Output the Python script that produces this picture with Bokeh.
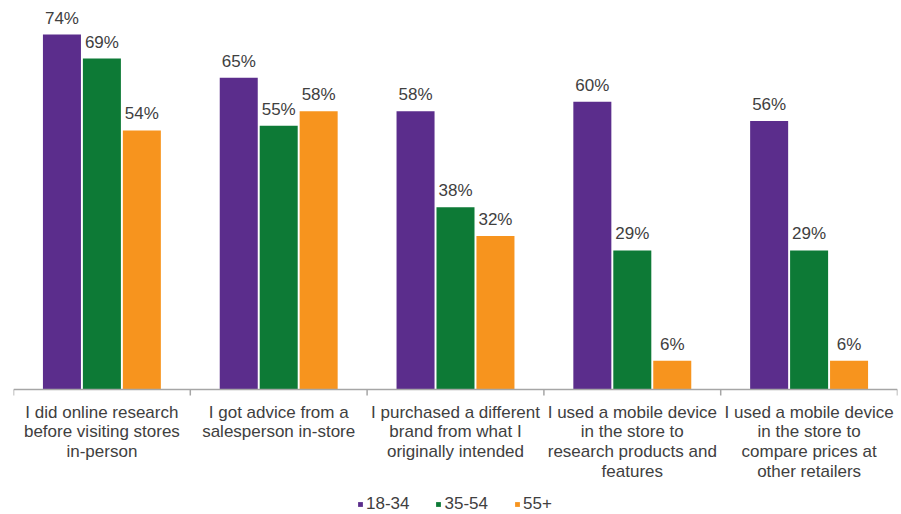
from bokeh.plotting import figure
from bokeh.models import ColumnDataSource, Range1d, Legend, LegendItem, Span
from bokeh.core.properties import value
from bokeh.transform import dodge
from bokeh.embed import file_html
from bokeh.resources import INLINE

categories = [
    "I did online research\nbefore visiting stores\nin-person",
    "I got advice from a\nsalesperson in-store",
    "I purchased a different\nbrand from what I\noriginally intended",
    "I used a mobile device\nin the store to\nresearch products and\nfeatures",
    "I used a mobile device\nin the store to\ncompare prices at\nother retailers",
]
series_names = ["18-34", "35-54", "55+"]
v_18_34 = [74, 65, 58, 60, 56]
v_35_54 = [69, 55, 38, 29, 29]
v_55p = [54, 58, 32, 6, 6]
colors = ["#5b2d8c", "#0d7a36", "#f7941e"]

FONT = "Liberation Sans"
TXT = "#404040"
AXIS = "#a6a6a6"

# layout (pixels)
PLOT_H = 389      # bar area height
BELOW_H = 125     # room for category labels and legend
Y_TOP = 81.1      # value at top of bar area
px_per_unit = PLOT_H / Y_TOP
y_bottom = -BELOW_H / px_per_unit

n = len(categories)
xs = list(range(n))
src = ColumnDataSource(dict(
    x=xs, cat=categories,
    a=v_18_34, b=v_35_54, c=v_55p,
    la=[f"{v}%" for v in v_18_34],
    lb=[f"{v}%" for v in v_35_54],
    lc=[f"{v}%" for v in v_55p],
))

p = figure(frame_width=884, frame_height=PLOT_H + BELOW_H, output_backend="svg", toolbar_location=None,
           x_range=Range1d(-0.5, n - 0.5), y_range=Range1d(y_bottom, Y_TOP),
           min_border_left=13, min_border_right=4, min_border_top=0, min_border_bottom=0,
           x_axis_location=None, y_axis_location=None)
p.outline_line_color = None
p.xgrid.visible = False
p.ygrid.visible = False

bw = 0.215
off = 0.226
renderers = []
for col, lab, dx, color in zip(["a", "b", "c"], ["la", "lb", "lc"], [-off, 0, off], colors):
    r = p.vbar(x=dodge("x", dx, range=p.x_range), top=col, bottom=0, width=bw, source=src,
               fill_color=color, line_color=None)
    renderers.append(r)
    p.text(x=dodge("x", dx, range=p.x_range), y=col, text=lab, source=src,
           text_align="center", text_baseline="bottom", y_offset=-7,
           text_font=value(FONT), text_font_size="17px", text_color=TXT)

# category axis: baseline, boundary ticks, labels
p.add_layout(Span(location=0, dimension="width", line_color=AXIS, line_width=1.5))
bounds = [i - 0.5 for i in range(n + 1)]
p.segment(x0=bounds, x1=bounds, y0=[0] * len(bounds), y1=[-6 / px_per_unit] * len(bounds),
          line_color=AXIS, line_width=1.5)
p.text(x="x", y=0, text="cat", source=src, text_align="center", text_baseline="top",
       y_offset=13, text_font=value(FONT), text_font_size="17px", text_color=TXT,
       text_line_height=1.05)

legend = Legend(items=[LegendItem(label=s, renderers=[r]) for s, r in zip(series_names, renderers)],
                orientation="horizontal", location=(344, 0),
                glyph_width=6, glyph_height=6, label_standoff=3, spacing=26,
                label_text_font=FONT, label_text_font_size="17px", label_text_color=TXT,
                border_line_color=None, background_fill_alpha=0,
                padding=0, margin=0, label_height=18)
p.add_layout(legend, "center")

open("out.html", "w").write(file_html(p, INLINE))
